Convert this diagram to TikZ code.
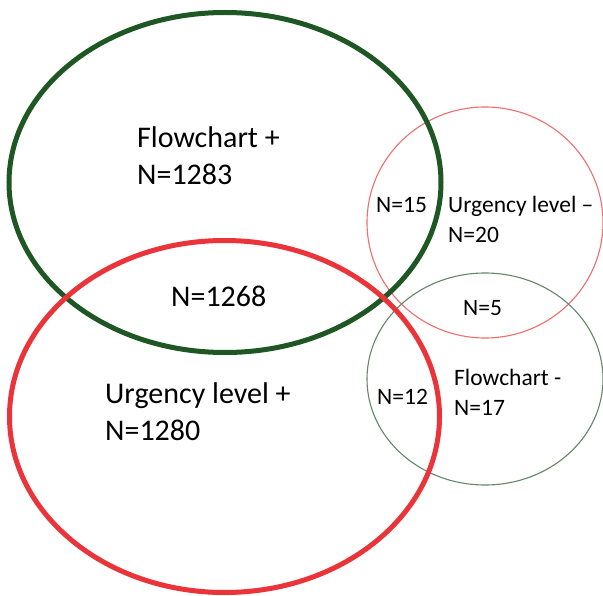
\documentclass[tikz,border=0pt]{standalone}
\usepackage{fontspec}
\setmainfont{Carlito}
\definecolor{dkgreen}{RGB}{30,86,36}
\definecolor{bigred}{RGB}{234,52,58}
\definecolor{thinred}{RGB}{240,110,110}
\definecolor{thingreen}{RGB}{100,135,105}
\begin{document}
\begin{tikzpicture}[x=1pt,y=-1pt,
  bigtxt/.style={anchor=base west,inner sep=0pt,font=\fontsize{30}{36}\selectfont},
  smalltxt/.style={anchor=base west,inner sep=0pt,font=\fontsize{23.5}{28}\selectfont}]
\useasboundingbox[fill=white] (0,0) rectangle (603,596);
% thin circles
\draw[thinred,line width=1.1pt] (485,222.5) ellipse [x radius=118,y radius=115.5];
\draw[thingreen,line width=1.1pt] (485,379) ellipse [x radius=118,y radius=106];
% big ellipses
\draw[dkgreen,line width=5pt] (225,182.5) ellipse [x radius=216,y radius=170];
\draw[bigred,line width=5pt] (224.5,416.5) ellipse [x radius=215,y radius=176];
% labels
\node[bigtxt] (fp1) at (137,148) {Flowchart +};
\node[bigtxt] (fp2) at (137,185) {N=1283};
\node[bigtxt] (both) at (171,307) {N=1268};
\node[bigtxt] (up1) at (105,403) {Urgency level +};
\node[bigtxt] (up2) at (105,440) {N=1280};
\node[smalltxt] (n15) at (376,213) {N=15};
\node[smalltxt] (um1) at (448,213) {Urgency level –};
\node[smalltxt] (um2) at (448,243) {N=20};
\node[smalltxt] (n5) at (463,316) {N=5};
\node[smalltxt] (n12) at (377,404) {N=12};
\node[smalltxt] (fm1) at (454,385) {Flowchart -};
\node[smalltxt] (fm2) at (454,415) {N=17};
\end{tikzpicture}
\end{document}
